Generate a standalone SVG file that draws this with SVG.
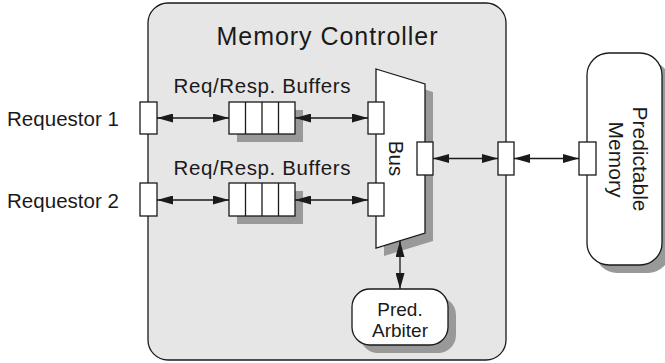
<svg xmlns="http://www.w3.org/2000/svg" width="665" height="363" viewBox="0 0 665 363">
<style>
.ln{stroke:#1a1a1a;stroke-width:1.3;fill:none}
.bx{fill:#fff;stroke:#1a1a1a;stroke-width:1.3}
.sh{fill:#999}
.t{font-family:"Liberation Sans",Arial,Helvetica,sans-serif;fill:#1a1a1a}
</style>
<defs>
<marker id="ah" markerUnits="userSpaceOnUse" markerWidth="16" markerHeight="9" refX="16" refY="4.5" orient="auto-start-reverse">
<path d="M0,0 L16,4.5 L0,9 z" fill="#1a1a1a"/>
</marker>
</defs>
<rect width="665" height="363" fill="#fff"/>
<g id="controller">
<rect x="148" y="3" width="358" height="357" rx="20" fill="#e6e6e6" stroke="#1a1a1a" stroke-width="1.3"/>
<text class="t" x="327" y="45" font-size="25" text-anchor="middle" textLength="221">Memory Controller</text>
</g>
<g id="requestor1"><text class="t" x="7" y="125.5" font-size="20.5" textLength="112">Requestor 1</text></g>
<g id="requestor2"><text class="t" x="7" y="207.5" font-size="20.5" textLength="112">Requestor 2</text></g>
<g id="buffer1">
<text class="t" x="262" y="93" font-size="20.5" text-anchor="middle" textLength="177">Req/Resp. Buffers</text>
<rect class="sh" x="237" y="110" width="66" height="32"/>
<rect class="bx" x="229" y="102" width="66" height="32"/>
<path class="ln" d="M245.5,102V134M262,102V134M278.5,102V134"/>
</g>
<g id="buffer2">
<text class="t" x="262" y="175" font-size="20.5" text-anchor="middle" textLength="177">Req/Resp. Buffers</text>
<rect class="sh" x="237" y="191" width="66" height="33"/>
<rect class="bx" x="229" y="183" width="66" height="33"/>
<path class="ln" d="M245.5,183V216M262,183V216M278.5,183V216"/>
</g>
<g id="bus">
<path class="sh" d="M384,77 L433,92 V241 L384,256 z"/>
<path class="bx" d="M376,69 L425,84 V233 L376,248 z"/>
<text class="t" transform="translate(389,158.5) rotate(90)" font-size="20.5" text-anchor="middle">Bus</text>
</g>
<g id="arbiter">
<rect class="sh" x="360" y="297" width="96" height="56" rx="18"/>
<rect class="bx" x="352" y="289" width="96" height="56" rx="18"/>
<text class="t" x="400" y="316" font-size="19" text-anchor="middle">Pred.</text>
<text class="t" x="400" y="337" font-size="19" text-anchor="middle">Arbiter</text>
</g>
<g id="memory">
<rect class="sh" x="595" y="61" width="75" height="212" rx="22"/>
<rect class="bx" x="587" y="53" width="75" height="212" rx="22"/>
<text class="t" transform="translate(633,159) rotate(90)" font-size="21" text-anchor="middle">Predictable</text>
<text class="t" transform="translate(608.5,159.5) rotate(90)" font-size="21" text-anchor="middle">Memory</text>
</g>
<g id="ports">
<rect class="bx" x="140" y="102" width="17" height="32"/>
<rect class="bx" x="368" y="102" width="16" height="32"/>
<rect class="bx" x="140" y="183" width="17" height="33"/>
<rect class="bx" x="368" y="183" width="16" height="33"/>
<rect class="bx" x="417" y="142" width="16" height="33"/>
<rect class="bx" x="498" y="142" width="16" height="33"/>
<rect class="bx" x="579" y="142" width="17" height="33"/>
</g>
<g id="connectors">
<path class="ln" d="M157,118H229" marker-start="url(#ah)" marker-end="url(#ah)"/>
<path class="ln" d="M295,118H368" marker-start="url(#ah)" marker-end="url(#ah)"/>
<path class="ln" d="M157,200H229" marker-start="url(#ah)" marker-end="url(#ah)"/>
<path class="ln" d="M295,200H368" marker-start="url(#ah)" marker-end="url(#ah)"/>
<path class="ln" d="M433,158.5H498" marker-start="url(#ah)" marker-end="url(#ah)"/>
<path class="ln" d="M514,158.5H579" marker-start="url(#ah)" marker-end="url(#ah)"/>
<path class="ln" d="M400,241V289" marker-start="url(#ah)" marker-end="url(#ah)"/>
</g>
</svg>
